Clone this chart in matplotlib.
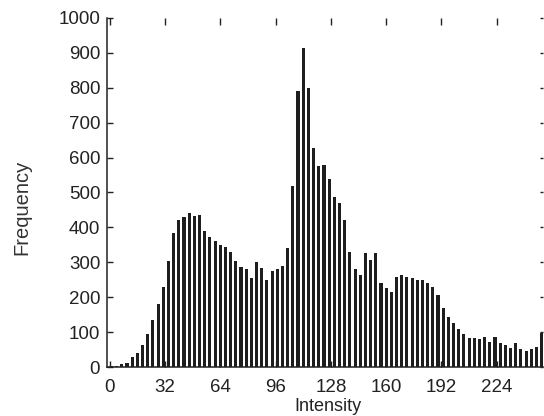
import matplotlib
matplotlib.use('Agg')
import matplotlib.pyplot as plt

# Histogram data (bin centres in intensity units, counts)
intensity = list(range(1, 251, 3))
frequency = [2, 4, 8, 12, 28, 40, 62, 94, 135, 180,
             230, 305, 385, 421, 430, 442, 432, 435, 390, 372,
             360, 350, 345, 330, 303, 287, 282, 255, 300, 285,
             250, 275, 282, 290, 340, 520, 790, 913, 800, 627,
             575, 579, 540, 488, 470, 420, 330, 280, 264, 326,
             307, 326, 240, 225, 216, 259, 264, 259, 254, 249,
             249, 240, 230, 205, 170, 142, 127, 110, 95, 84,
             83, 80, 87, 73, 85, 70, 62, 55, 68, 51,
             47, 52, 58, 97]
xticks = [0, 32, 64, 96, 128, 160, 192, 224]
yticks = [0, 100, 200, 300, 400, 500, 600, 700, 800, 900, 1000]

plt.rcParams['font.family'] = ['Liberation Sans', 'DejaVu Sans']

W, H = 544, 416
fig = plt.figure(figsize=(W / 100, H / 100), dpi=100)
left_px, right_px, top_px, bot_px = 106.5, 543.4, 18, 367
ax = fig.add_axes([left_px / W, (H - bot_px) / H,
                   (right_px - left_px) / W, (bot_px - top_px) / H])

ax.bar(intensity, frequency, width=1.8, color='#1e1e1e', linewidth=0)

ax.set_xlim(-1.85, 251)
ax.set_ylim(0, 1000)
ax.set_xticks(xticks)
ax.set_yticks(yticks)

for s in ['top', 'right']:
    ax.spines[s].set_visible(False)
for s in ['left', 'bottom']:
    ax.spines[s].set_linewidth(1.1)
    ax.spines[s].set_color('#222222')

ax.tick_params(axis='y', direction='in', length=4, width=1, left=True,
               right=True, labelsize=13.5, pad=4.5, colors='#222222')
ax.tick_params(axis='x', direction='in', length=4, width=1, bottom=True,
               top=True, labelsize=13.5, pad=8.5, colors='#222222')
for t in ax.yaxis.get_major_ticks():
    t.tick2line.set_markersize(2)
for t in ax.xaxis.get_major_ticks():
    t.tick2line.set_markersize(5)

fig.text(328 / W, (H - 411) / H, 'Intensity', ha='center', va='baseline',
         fontsize=13, color='#222222')
fig.text(22 / W, (H - 207) / H, 'Frequency', ha='center', va='center',
         rotation=90, fontsize=14.5, color='#333333')

fig.savefig('out.png', dpi=100)
